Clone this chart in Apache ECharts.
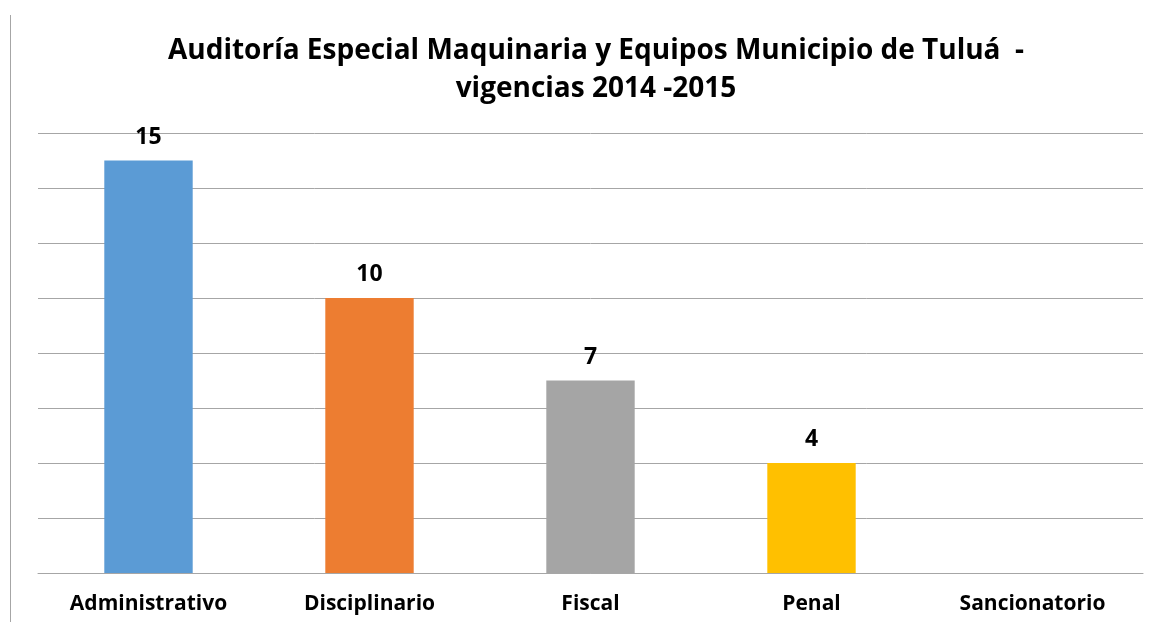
<!DOCTYPE html>
<html><head><meta charset="utf-8">
<script src="https://cdn.jsdelivr.net/npm/echarts@6/dist/echarts.min.js"></script>
<style>
html,body{margin:0;padding:0;background:#fff;}
#c{width:1155px;height:622px;position:relative;}
#edge{position:absolute;left:10px;top:15px;width:0;height:607px;border-left:1px solid #a6a6a6;}
</style></head>
<body>
<div id="c"></div>
<div id="edge"></div>
<script>
const categories = ['Administrativo', 'Disciplinario', 'Fiscal', 'Penal', 'Sancionatorio'];
const values = [15, 10, 7, 4, 0];
const colors = ['#5b9bd5', '#ed7d31', '#a5a5a5', '#ffc000', '#4472c4'];
const titleText = 'Auditoría Especial Maquinaria y Equipos Municipio de Tuluá  -\nvigencias 2014 -2015';

const chart = echarts.init(document.getElementById('c'), null, {renderer: 'canvas'});
chart.setOption({
  animation: false,
  backgroundColor: '#fff',
  title: {
    text: titleText,
    left: 591, top: 27, textAlign: 'center',
    textStyle: {fontFamily: 'Open Sans', fontWeight: 'bold', fontSize: 28, color: '#000', lineHeight: 38}
  },
  grid: {left: 38, right: 12, top: 133, bottom: 49},
  xAxis: {
    type: 'category', data: categories,
    axisLine: {lineStyle: {color: '#a6a6a6', width: 1}},
    axisTick: {show: false},
    axisLabel: {fontFamily: 'Open Sans', fontWeight: 'bold', fontSize: 21, color: '#000', margin: 21}
  },
  yAxis: {
    type: 'value', min: 0, max: 16, interval: 2,
    axisLabel: {show: false}, axisLine: {show: false}, axisTick: {show: false},
    splitLine: {lineStyle: {color: '#a6a6a6', width: 1}}
  },
  series: [{
    type: 'bar', barWidth: '40%',
    data: values.map((v, i) => ({value: v, itemStyle: {color: colors[i]}})),
    label: {
      show: true, position: 'top', distance: 12,
      fontFamily: 'Open Sans', fontWeight: 'bold', fontSize: 23, color: '#000',
      formatter: p => p.value ? String(p.value) : ''
    }
  }]
});
</script>
</body></html>
